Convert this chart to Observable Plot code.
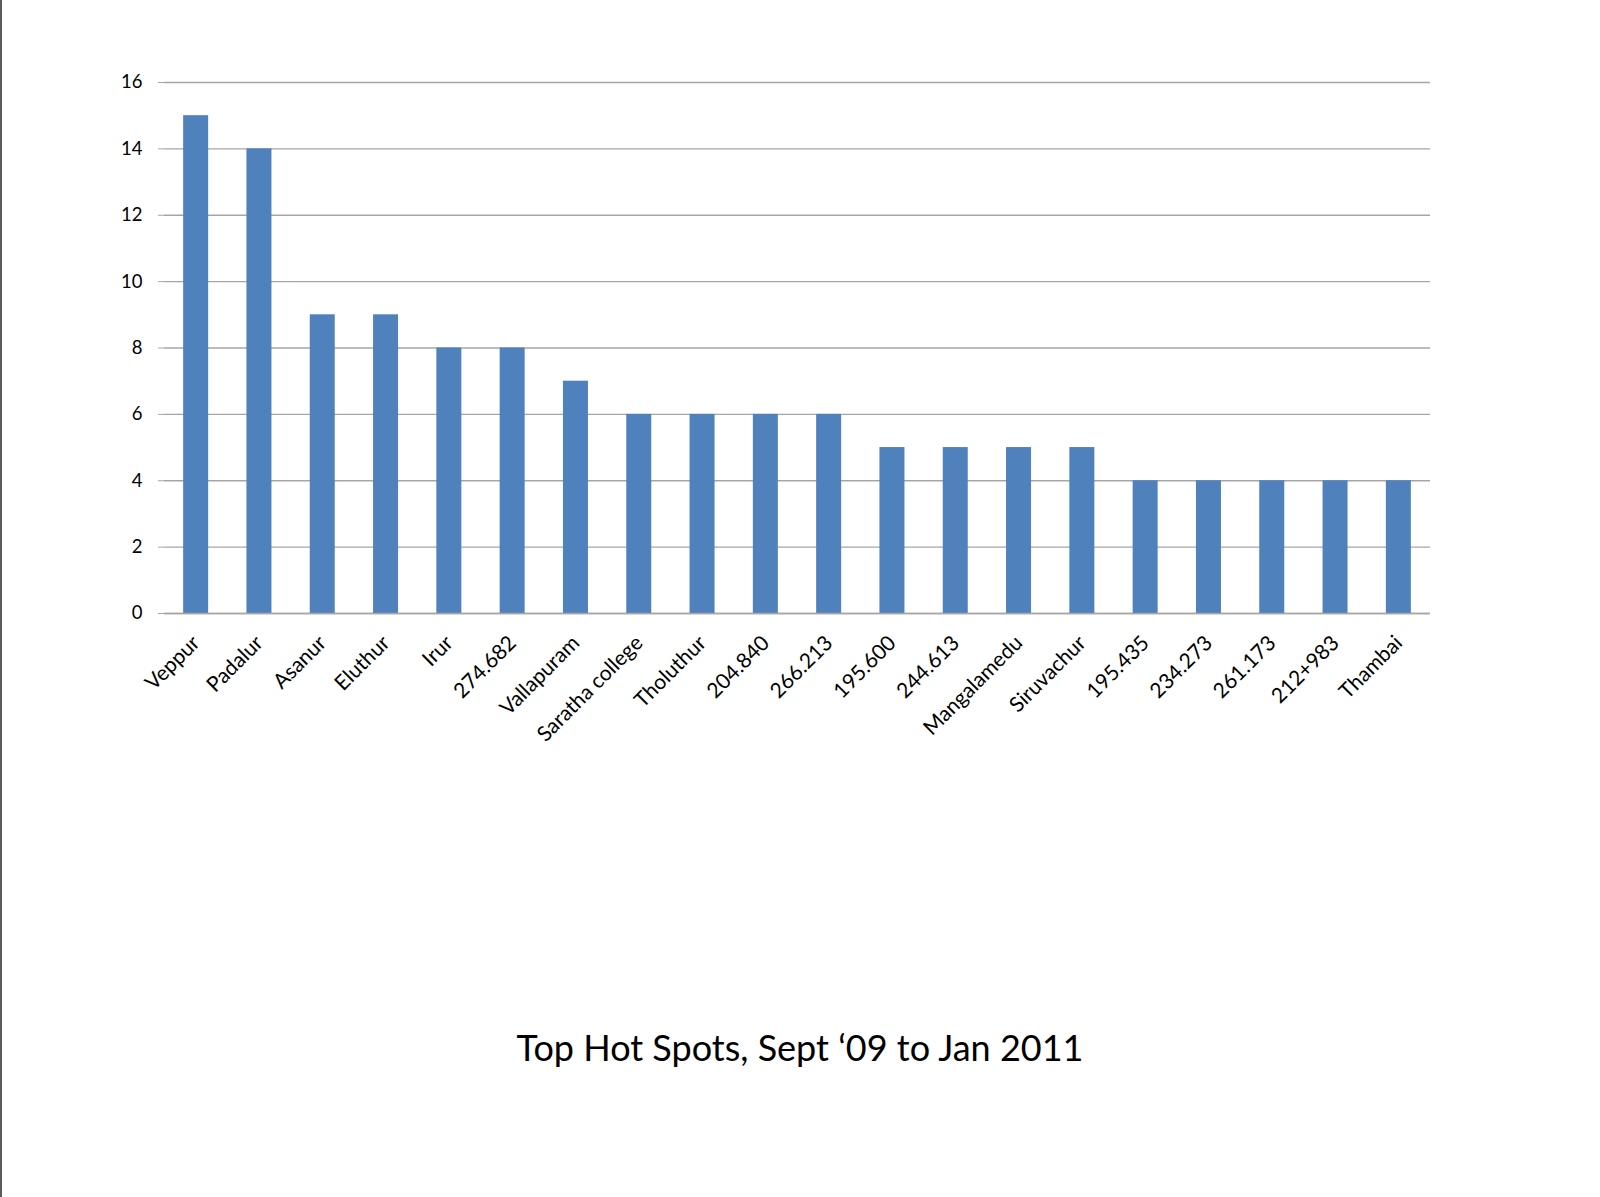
<!DOCTYPE html>
<html><head><meta charset="utf-8">
<script src="https://cdn.jsdelivr.net/npm/d3@7"></script>
<script src="https://cdn.jsdelivr.net/npm/@observablehq/plot@0.6"></script>
<style>
html,body{margin:0;padding:0;background:#fff;}
#page{position:relative;width:1600px;height:1197px;overflow:hidden;background:#fff;}
#edge{position:absolute;left:0;top:0;width:2px;height:1197px;background:#5b5b5b;}
#chart{position:absolute;left:0;top:0;}
#title{position:absolute;left:0;width:1600px;top:1025px;text-align:center;font-family:Lato,sans-serif;font-size:36px;color:#000;line-height:44px;}
</style></head><body>
<div id="page"><div id="chart"></div><div id="title"></div><div id="edge"></div></div>
<script>
const categories = ["Veppur","Padalur","Asanur","Eluthur","Irur","274.682","Vallapuram","Saratha college","Tholuthur","204.840","266.213","195.600","244.613","Mangalamedu","Siruvachur","195.435","234.273","261.173","212+983","Thambai"];
const values = [15,14,9,9,8,8,7,6,6,6,6,5,5,5,5,4,4,4,4,4];
const yTicks = [0,2,4,6,8,10,12,14,16];
const titleText = "Top Hot Spots, Sept \u201809 to Jan 2011";

const data = categories.map((c, i) => ({site: c, count: values[i]}));
const gridColor = "#a6a6a6";
const barColor = "#4f81bd";

function frameAndTicks(index, scales, vals, dims) {
  const x = scales.x, y = scales.y;
  const n = categories.length;
  const step = x(categories[1]) - x(categories[0]);
  const bw = x.bandwidth != null ? x.bandwidth : step * 0.4;
  const y0 = y(0), yTop = y(yTicks[yTicks.length - 1]);
  const g = d3.create("svg:g").attr("stroke", gridColor).attr("stroke-width", 1.4).attr("fill", "none");
  const left = x(categories[0]) + bw / 2 - step / 2;
  g.append("line").attr("x1", left).attr("x2", left).attr("y1", yTop).attr("y2", y0);
  for (let i = 0; i <= n; i++) {
    const xb = left + i * step;
    g.append("line").attr("x1", xb).attr("x2", xb).attr("y1", y0).attr("y2", y0 + 7);
  }
  return g.node();
}

const chart = Plot.plot({
  width: 1600, height: 800,
  marginLeft: 164, marginRight: 170, marginTop: 82, marginBottom: 187,
  style: {fontFamily: "Lato, sans-serif", fontSize: "18px", color: "#000", background: "#fff"},
  x: {domain: categories, paddingInner: 0.605, paddingOuter: 0.3025, round: false, label: null},
  y: {domain: [0, 16], label: null},
  marks: [
    Plot.gridY(yTicks, {stroke: gridColor, strokeOpacity: 1, strokeWidth: 1.4}),
    Plot.barY(data, {x: "site", y: "count", fill: barColor}),
    Plot.ruleY([0], {stroke: gridColor, strokeWidth: 1.4}),
    frameAndTicks,
    Plot.axisY(yTicks, {tickSize: 6, tickPadding: 16, stroke: gridColor, strokeOpacity: 1, fontSize: 18.5, label: null}),
    Plot.axisX({tickSize: 0, tickRotate: -45, tickPadding: 26, fontSize: 21, label: null})
  ]
});
document.getElementById("chart").appendChild(chart);
document.getElementById("title").textContent = titleText;
</script>
</body></html>
